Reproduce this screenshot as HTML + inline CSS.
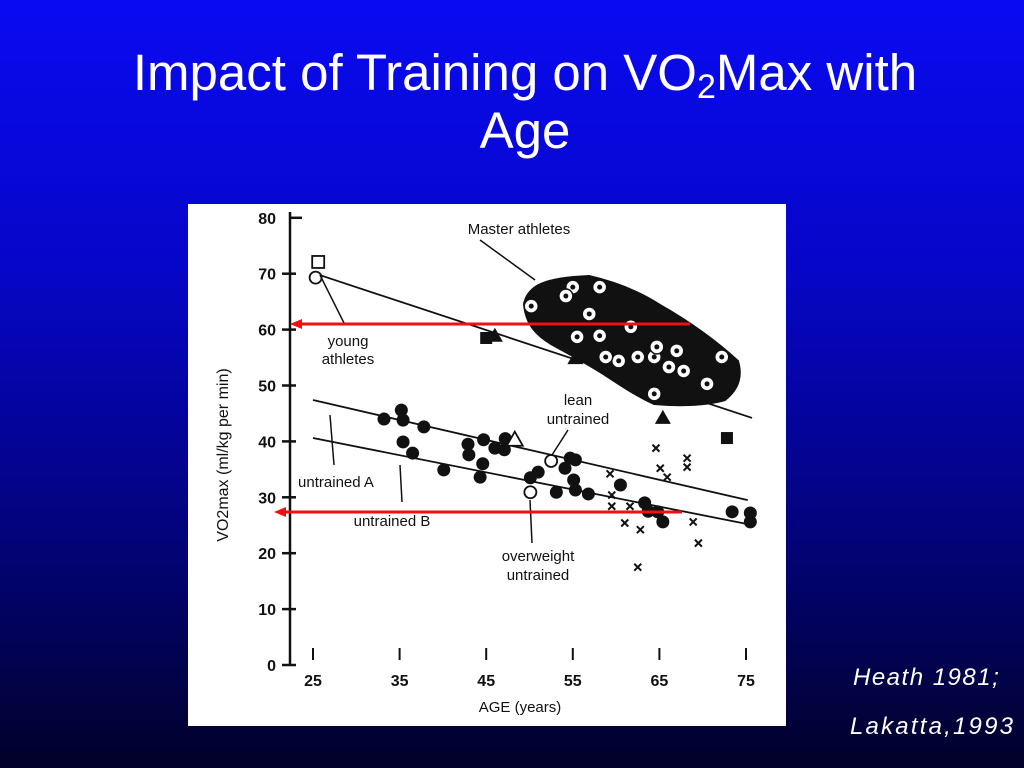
<!DOCTYPE html>
<html><head><meta charset="utf-8"><style>
body{margin:0;width:1024px;height:768px;overflow:hidden;background:linear-gradient(#0a0af2 0%,#0606c8 35%,#03037a 70%,#01012a 100%);font-family:"Liberation Sans",sans-serif;}
.title{position:absolute;left:0;width:1050px;top:44px;text-align:center;color:#fff;font-size:51px;line-height:58px;}
.cite{position:absolute;color:#fff;font-style:italic;font-size:24px;letter-spacing:1.5px;line-height:28px;}
</style></head><body>
<div class="title">Impact of Training on VO<sub style="font-size:34px;vertical-align:-8px;line-height:0">2</sub>Max with<br>Age</div>
<div class="cite" style="top:664px;left:853px">Heath 1981;</div>
<div class="cite" style="top:713px;left:850px;letter-spacing:2.2px">Lakatta,1993</div>
<svg id="chart" style="position:absolute;left:188px;top:204px" width="598" height="522" viewBox="188 204 598 522" font-family="Liberation Sans, sans-serif"></svg>
<script>
const yTicks=[0,10,20,30,40,50,60,70,80];
const xTicks=[25,35,45,55,65,75];
const filledAge=[33.2,35.2,35.4,37.8,35.4,36.5,40.1,42.9,44.7,43.0,44.6,44.3,46.0,47.1,50.1,51.0,53.1,54.7,55.3,54.1,55.3,55.1,56.8,60.5,63.3,63.7,64.8,65.4,73.4,75.5,75.5,47.2];
const filledVo2=[44.0,45.6,43.8,42.6,39.9,37.9,34.9,39.5,40.3,37.6,36.0,33.6,38.8,38.5,33.5,34.5,30.9,37.0,36.7,35.2,31.3,33.1,30.6,32.2,29.0,27.5,27.4,25.6,27.4,27.2,25.6,40.5];
const xAge=[64.6,59.3,65.1,65.9,68.2,68.2,59.5,59.5,61.6,61.0,62.8,68.9,69.5,62.5];
const xVo2=[38.8,34.2,35.2,33.6,37.0,35.4,30.4,28.4,28.4,25.4,24.2,25.6,21.8,17.5];
const openCircAge=[25.3,50.1,52.5];
const openCircVo2=[69.3,30.9,36.5];
const filledTriAge=[55.3,65.4,46.0];
const filledTriVo2=[54.9,44.2,58.9];
const filledSqAge=[63.6,72.8,45.0];
const filledSqVo2=[51.5,40.6,58.5];
const lineYoung=[[25.3,70],[75.7,44.2]];
const lineA=[[25,47.4],[75.2,29.5]];
const lineB=[[25,40.6],[75.2,25.2]];
const masterAge=[55.0,54.2,58.1,55.5,58.1,60.3,58.8,62.5,64.4,66.1,67.8,70.5,72.2,64.4,56.9,61.7,64.7,67.0,50.2];
const masterVo2=[67.6,66.0,67.6,58.7,58.9,54.4,55.1,55.1,55.1,53.3,52.6,50.3,55.1,48.5,62.8,60.5,56.9,56.2,64.2];
const X=a=>313+(a-25)*8.66, Y=v=>665-v*5.59;
const S=document.getElementById('chart'),NS='http://www.w3.org/2000/svg';
function mk(t,at,p){const e=document.createElementNS(NS,t);for(const k in at)e.setAttribute(k,at[k]);(p||S).appendChild(e);return e;}
mk('rect',{x:188,y:204,width:598,height:522,fill:'#fff'});
const ax=mk('line',{x1:290,y1:212,x2:290,y2:665,stroke:'#111','stroke-width':2.5});


yTicks.forEach(v=>{
 const t=mk('line',{x1:v==80?290:282,y1:Y(v),x2:v==80?302:296,y2:Y(v),stroke:'#111','stroke-width':2.5});
 
 
 const l=mk('text',{x:276,y:Y(v)+6,'text-anchor':'end','font-size':16,'font-weight':'bold',fill:'#111'});l.textContent=v;
 
 
});
xTicks.forEach(a=>{
 const t=mk('line',{x1:X(a),y1:648,x2:X(a),y2:660,stroke:'#111','stroke-width':2});
 
 
 const l=mk('text',{x:X(a),y:686,'text-anchor':'middle','font-size':16,'font-weight':'bold',fill:'#111'});l.textContent=a;
 
 
});
const xt=mk('text',{x:520,y:712,'text-anchor':'middle','font-size':15,fill:'#111'});xt.textContent='AGE (years)';


const yt=mk('text',{x:0,y:0,'text-anchor':'middle','font-size':16,fill:'#111',transform:'translate(228,455) rotate(-90)'});yt.textContent='VO2max (ml/kg per min)';


const blob=mk('path',{d:'M524,304 C528,285 545,278 589,276 C615,282 640,292 660,305 C690,322 715,340 738,361 C742,375 740,388 725,400 C705,406 675,406 654,404 C635,395 620,385 608,377 C585,362 565,352 551,344 C538,336 526,326 524,304 Z',fill:'#111',stroke:'#111','stroke-width':2});


for(let i=0;i<masterAge.length;i++){const c=mk('circle',{cx:X(masterAge[i]),cy:Y(masterVo2[i]),r:7,fill:'#fff',stroke:'#111','stroke-width':1.5});
 
 
 const d=mk('circle',{cx:X(masterAge[i]),cy:Y(masterVo2[i]),r:2.5,fill:'#111'});
 
 }
[[lineYoung,'young-athletes-line'],[lineA,'untrained-a-line'],[lineB,'untrained-b-line']].forEach(([L,n])=>{
 const l=mk('line',{x1:X(L[0][0]),y1:Y(L[0][1]),x2:X(L[1][0]),y2:Y(L[1][1]),stroke:'#111','stroke-width':1.8});
 
 
});
for(let i=0;i<filledAge.length;i++){const c=mk('circle',{cx:X(filledAge[i]),cy:Y(filledVo2[i]),r:6.5,fill:'#111'});
 
 }
for(let i=0;i<xAge.length;i++){const x=X(xAge[i]),y=Y(xVo2[i]);const p=mk('path',{d:`M${x-3.5},${y-3.5}L${x+3.5},${y+3.5}M${x+3.5},${y-3.5}L${x-3.5},${y+3.5}`,stroke:'#111','stroke-width':2});
 
 }
for(let i=0;i<openCircAge.length;i++){const c=mk('circle',{cx:X(openCircAge[i]),cy:Y(openCircVo2[i]),r:6,fill:'#fff',stroke:'#111','stroke-width':1.8});
 
 }
const osq=mk('rect',{x:X(25.6)-6,y:Y(72.1)-6,width:12,height:12,fill:'#fff',stroke:'#111','stroke-width':1.8});


const otri=mk('path',{d:`M${X(48.3)},${Y(40.3)-8}L${X(48.3)+8},${Y(40.3)+6}L${X(48.3)-8},${Y(40.3)+6}Z`,fill:'#fff',stroke:'#111','stroke-width':1.8});


for(let i=0;i<filledTriAge.length;i++){const x=X(filledTriAge[i]),y=Y(filledTriVo2[i]);const p=mk('path',{d:`M${x},${y-8}L${x+8},${y+6}L${x-8},${y+6}Z`,fill:'#111'});
 
 }
for(let i=0;i<filledSqAge.length;i++){const r=mk('rect',{x:X(filledSqAge[i])-6,y:Y(filledSqVo2[i])-6,width:12,height:12,fill:'#111'});
 
 }
function lbl(txt,x,y,n,anchor){const t=mk('text',{x:x,y:y,'text-anchor':anchor||'middle','font-size':15,fill:'#111'});t.textContent=txt;
 
 }
lbl('Master athletes',519,234,'master-athletes-label');
lbl('young',348,346,'young-athletes-label');lbl('athletes',348,364,'young-athletes-label-2');
lbl('lean',578,405,'lean-untrained-label');lbl('untrained',578,424,'lean-untrained-label-2');
lbl('untrained A',336,487,'untrained-a-label');lbl('untrained B',392,526,'untrained-b-label');
lbl('overweight',538,561,'overweight-label');lbl('untrained',538,580,'overweight-label-2');
[['M480,240 L535,280','master-arrow'],['M345,325 L320,275','young-arrow'],['M334,465 L330,415','a-arrow'],['M402,502 L400,465','b-arrow'],['M532,543 L530,500','overweight-arrow'],['M568,430 L552,455','lean-arrow']].forEach(([d,n])=>{
 const p=mk('path',{d:d,stroke:'#111','stroke-width':1.5,fill:'none'});
 
 
});
[[690,290,324,'red-arrow-60'],[682,274,512,'red-arrow-27']].forEach(([x1,x2,y,n])=>{
 const g=mk('g',{});
 
 
 mk('line',{x1:x1,y1:y,x2:x2+8,y2:y,stroke:'#f01010','stroke-width':3},g);
 mk('path',{d:`M${x2},${y}L${x2+12},${y-5}L${x2+12},${y+5}Z`,fill:'#f01010'},g);
});
</script>
</body></html>
